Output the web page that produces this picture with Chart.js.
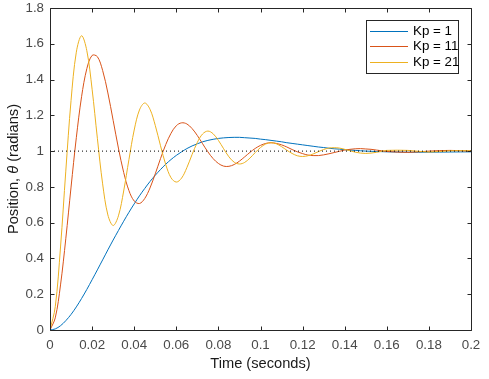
<!DOCTYPE html>
<html><head><meta charset="utf-8">
<script src="https://cdn.jsdelivr.net/npm/chart.js@4/dist/chart.umd.min.js"></script>
<style>html,body{margin:0;padding:0;background:#fff;}canvas{display:block;}</style>
</head><body>
<canvas id="c" width="489" height="379"></canvas>
<script>
// ---- data ----
const times = [0,0.0025,0.005,0.0075,0.01,0.0125,0.015,0.0175,0.02,0.0225,0.025,0.0275,0.03,0.0325,0.035,0.0375,0.04,0.0425,0.045,0.0475,0.05,0.0525,0.055,0.0575,0.06,0.0625,0.065,0.0675,0.07,0.0725,0.075,0.0775,0.08,0.0825,0.085,0.0875,0.09,0.0925,0.095,0.0975,0.1,0.1025,0.105,0.1075,0.11,0.1125,0.115,0.1175,0.12,0.1225,0.125,0.1275,0.13,0.1325,0.135,0.1375,0.14,0.1425,0.145,0.1475,0.15,0.1525,0.155,0.1575,0.16,0.17,0.18,0.19,0.2];
const kp1 = [0,0.006,0.024,0.052,0.087,0.129,0.176,0.227,0.281,0.336,0.392,0.448,0.503,0.556,0.608,0.658,0.705,0.750,0.791,0.830,0.865,0.897,0.927,0.953,0.976,0.996,1.014,1.029,1.041,1.052,1.060,1.066,1.071,1.074,1.076,1.077,1.077,1.075,1.073,1.071,1.067,1.064,1.060,1.056,1.052,1.047,1.043,1.039,1.035,1.031,1.027,1.023,1.020,1.016,1.013,1.011,1.008,1.006,1.004,1.002,1.000,0.999,0.998,0.997,0.996,0.994,0.994,0.995,0.996];
const kp11 = [0,0.068,0.252,0.510,0.799,1.075,1.304,1.461,1.535,1.528,1.451,1.325,1.172,1.017,0.881,0.779,0.721,0.707,0.735,0.794,0.873,0.958,1.037,1.100,1.142,1.158,1.152,1.126,1.087,1.041,0.996,0.958,0.931,0.916,0.915,0.925,0.944,0.968,0.993,1.015,1.032,1.043,1.047,1.043,1.035,1.023,1.009,0.996,0.986,0.978,0.975,0.975,0.979,0.985,0.992,0.999,1.006,1.010,1.013,1.014,1.012,1.010,1.006,1.002,0.998,0.993,1.000,1.004,1.000];
const kp21 = [0,0.130,0.464,0.888,1.283,1.553,1.645,1.561,1.346,1.072,0.817,0.643,0.584,0.638,0.777,0.953,1.118,1.230,1.269,1.234,1.144,1.030,0.924,0.851,0.827,0.849,0.907,0.981,1.049,1.096,1.112,1.097,1.060,1.013,0.968,0.938,0.928,0.937,0.961,0.992,1.020,1.040,1.047,1.041,1.025,1.005,0.987,0.974,0.970,0.974,0.984,0.997,1.009,1.017,1.019,1.017,1.010,1.002,0.994,0.989,0.987,0.989,0.993,0.999,1.004,1.004,0.995,1.002,1.002];
const seriesLabels = ['Kp = 1', 'Kp = 11', 'Kp = 21'];
const refTimes = [0, 0.2];
const refLevel = [1, 1];
const xTickValues = [0,0.02,0.04,0.06,0.08,0.1,0.12,0.14,0.16,0.18,0.2];
const xTickLabels = ['0','0.02','0.04','0.06','0.08','0.1','0.12','0.14','0.16','0.18','0.2'];
const yTickValues = [0,0.2,0.4,0.6,0.8,1,1.2,1.4,1.6,1.8];
const yTickLabels = ['0','0.2','0.4','0.6','0.8','1','1.2','1.4','1.6','1.8'];
const xTitle = 'Time (seconds)';
const yTitleParts = ['Position, ', '\u03B8', ' (radians)'];

// ---- styling ----
const FONT = '"Liberation Sans", Arial, Helvetica, sans-serif';
const seriesColors = ['#0072BD', '#D95319', '#EDB120'];
const axisColor = '#262626';
const pts = (xs, ys) => xs.map((x, i) => ({x: x, y: ys[i]}));

const decor = {
  id: 'decor',
  afterDatasetsDraw(chart) {
    const ctx = chart.ctx, a = chart.chartArea;
    const xs = chart.scales.x, ys = chart.scales.y;
    ctx.save();
    ctx.strokeStyle = axisColor;
    ctx.lineWidth = 1;
    const L = Math.round(a.left) + 0.5, R = Math.round(a.right) + 0.5;
    const T = Math.round(a.top) + 0.5, B = Math.round(a.bottom) + 0.5;
    ctx.beginPath();
    ctx.rect(L, T, R - L, B - T);
    const tl = 4;
    xTickValues.forEach(v => {
      const px = Math.round(xs.getPixelForValue(v)) + 0.5;
      ctx.moveTo(px, B); ctx.lineTo(px, B - tl);
      ctx.moveTo(px, T); ctx.lineTo(px, T + tl);
    });
    yTickValues.forEach(v => {
      const py = Math.round(ys.getPixelForValue(v)) + 0.5;
      ctx.moveTo(L, py); ctx.lineTo(L + tl, py);
      ctx.moveTo(R, py); ctx.lineTo(R - tl, py);
    });
    ctx.stroke();
    ctx.restore();
  },
  afterDraw(chart) {
    const ctx = chart.ctx, a = chart.chartArea;
    ctx.save();
    // x title
    ctx.fillStyle = '#1a1a1a';
    ctx.font = '14.67px ' + FONT;
    ctx.textAlign = 'center';
    ctx.textBaseline = 'alphabetic';
    ctx.fillText(xTitle, (a.left + a.right) / 2, 368);
    // y title with italic theta
    const normal = '14.67px ' + FONT, italic = 'italic 14.67px ' + FONT;
    const fonts = [normal, italic, normal];
    const widths = yTitleParts.map((t, i) => { ctx.font = fonts[i]; return ctx.measureText(t).width; });
    const total = widths.reduce((s, w) => s + w, 0);
    ctx.translate(18, (a.top + a.bottom) / 2);
    ctx.rotate(-Math.PI / 2);
    ctx.textAlign = 'left';
    let cx = -total / 2;
    yTitleParts.forEach((t, i) => { ctx.font = fonts[i]; ctx.fillText(t, cx, 0); cx += widths[i]; });
    ctx.restore();

    // legend
    ctx.save();
    const bx = 366.5, by = 20.5, bw = 92, bh = 53;
    ctx.fillStyle = '#fff';
    ctx.fillRect(bx, by, bw, bh);
    ctx.strokeStyle = '#262626';
    ctx.lineWidth = 1;
    ctx.strokeRect(bx, by, bw, bh);
    ctx.font = '13.33px ' + FONT;
    ctx.textBaseline = 'middle';
    ctx.textAlign = 'left';
    const rows = [31.5, 46.5, 62.5];
    seriesLabels.forEach((lab, i) => {
      ctx.strokeStyle = seriesColors[i];
      ctx.beginPath();
      ctx.moveTo(370, rows[i]); ctx.lineTo(408, rows[i]);
      ctx.stroke();
      ctx.fillStyle = '#000';
      ctx.fillText(lab, 413, rows[i]);
    });
    ctx.restore();
  }
};

const lineDs = (label, ys, color, order) => ({
  label: label, data: pts(times, ys), borderColor: color, backgroundColor: color,
  borderWidth: 1, pointRadius: 0, tension: 0.35, fill: false, order: order
});

new Chart(document.getElementById('c'), {
  type: 'line',
  data: {
    datasets: [
      lineDs(seriesLabels[0], kp1, seriesColors[0], 3),
      lineDs(seriesLabels[1], kp11, seriesColors[1], 2),
      lineDs(seriesLabels[2], kp21, seriesColors[2], 1),
      { label: 'ref', data: pts(refTimes, refLevel), borderColor: '#000', borderWidth: 1,
        borderDash: [1, 3], pointRadius: 0, tension: 0, fill: false, order: 0 }
    ]
  },
  options: {
    responsive: false, animation: false, events: [],
    layout: { padding: { top: 8, right: 18, left: 0, bottom: 0 } },
    plugins: { legend: { display: false }, tooltip: { enabled: false }, title: { display: false } },
    scales: {
      x: {
        type: 'linear', min: 0, max: 0.2,
        grid: { display: false, drawTicks: false }, border: { display: false },
        afterBuildTicks: s => { s.ticks = xTickValues.map(v => ({value: v})); },
        afterFit: s => { s.height = 49; s.paddingLeft = 0; s.paddingRight = 0; },
        ticks: { autoSkip: false, maxRotation: 0, padding: 7, color: '#4a4a4a',
          font: { family: FONT, size: 13.33 }, callback: (v, i) => xTickLabels[i] }
      },
      y: {
        type: 'linear', min: 0, max: 1.8,
        grid: { display: false, drawTicks: false }, border: { display: false },
        afterBuildTicks: s => { s.ticks = yTickValues.map(v => ({value: v})); },
        afterFit: s => { s.width = 50; s.paddingTop = 0; s.paddingBottom = 0; },
        ticks: { autoSkip: false, padding: 6, color: '#4a4a4a',
          font: { family: FONT, size: 13.33 }, callback: (v, i) => yTickLabels[i] }
      }
    }
  },
  plugins: [decor]
});
</script>
</body></html>
